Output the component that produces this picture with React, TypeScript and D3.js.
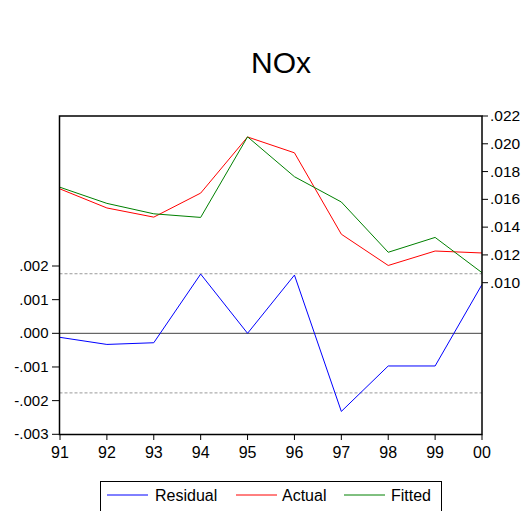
import React from "react";
import * as d3 from "d3";

const years = ["91", "92", "93", "94", "95", "96", "97", "98", "99", "00"];
const actual = [0.01675, 0.01538, 0.01472, 0.01645, 0.02049, 0.01935, 0.01349, 0.01124, 0.01228, 0.01214];
const fitted = [0.01687, 0.01571, 0.01496, 0.0147, 0.0205, 0.01763, 0.01581, 0.01219, 0.01326, 0.01072];
const residual = [-0.00012, -0.00033, -0.00028, 0.00176, 0.0, 0.00173, -0.00232, -0.00097, -0.00097, 0.00145];
const residStd = 0.00177;
const leftTicks = [-0.003, -0.002, -0.001, 0.0, 0.001, 0.002];
const rightTicks = [0.01, 0.012, 0.014, 0.016, 0.018, 0.02, 0.022];
const legendItems = [
  { name: "Residual", color: "#0000FF" },
  { name: "Actual", color: "#FF0000" },
  { name: "Fitted", color: "#008000" },
];

const fmt = (v: number) => {
  const s = Math.abs(v).toFixed(3).replace(/^0/, "");
  return (v < -1e-9 ? "-" : "") + s;
};

export default function App() {
  const L = 59.5, R = 482, T = 116, B = 434.5;
  const x = d3.scalePoint<string>().domain(years).range([60, 482]);
  const yL = d3.scaleLinear().domain([-0.003, 0.002]).range([434.3, 266]);
  const yR = d3.scaleLinear().domain([0.01, 0.022]).range([282.7, 116]);
  const lineL = d3.line<number>().x((_, i) => x(years[i])!).y((d) => yL(d));
  const lineR = d3.line<number>().x((_, i) => x(years[i])!).y((d) => yR(d));
  const font = "Arial, 'Liberation Sans', sans-serif";
  const legX = [107, 236, 344];
  const legTextX = [155, 282, 391];
  return (
    <svg width={529} height={511} style={{ position: "absolute", left: 0, top: 0 }} fontFamily={font}>
      <rect width={529} height={511} fill="#fff" />
      <text x={281} y={72.5} fontSize={30} textAnchor="middle">NOx</text>
      <line x1={L} x2={R} y1={yL(0)} y2={yL(0)} stroke="#444" strokeWidth={1} />
      <line x1={L} x2={R} y1={yL(residStd)} y2={yL(residStd)} stroke="#999" strokeWidth={1} strokeDasharray="3,2" />
      <line x1={L} x2={R} y1={yL(-residStd)} y2={yL(-residStd)} stroke="#999" strokeWidth={1} strokeDasharray="3,2" />
      <path d={lineL(residual)!} fill="none" stroke="#0000FF" strokeWidth={1} />
      <path d={lineR(actual)!} fill="none" stroke="#FF0000" strokeWidth={1} />
      <path d={lineR(fitted)!} fill="none" stroke="#008000" strokeWidth={1} />
      <rect x={L} y={T} width={R - L} height={B - T} fill="none" stroke="#000" strokeWidth={1.5} />
      {leftTicks.map((t) => (
        <g key={"l" + t}>
          <line x1={52} x2={L} y1={yL(t)} y2={yL(t)} stroke="#000" strokeWidth={1} />
          <text x={48.5} y={yL(t) + 5} fontSize={15} textAnchor="end">{fmt(t)}</text>
        </g>
      ))}
      {rightTicks.map((t) => (
        <g key={"r" + t}>
          <line x1={R} x2={488} y1={yR(t)} y2={yR(t)} stroke="#000" strokeWidth={1} />
          <text x={490} y={yR(t) + 5} fontSize={15.5} textAnchor="start">{fmt(t)}</text>
        </g>
      ))}
      {years.map((yv) => (
        <g key={"x" + yv}>
          <line x1={x(yv)} x2={x(yv)} y1={B} y2={440} stroke="#000" strokeWidth={1} />
          <text x={x(yv)} y={457.5} fontSize={16} textAnchor="middle">{yv}</text>
        </g>
      ))}
      <rect x={100.5} y={481.5} width={341} height={40} fill="#fff" stroke="#000" strokeWidth={1} />
      {legendItems.map((it, i) => (
        <g key={it.name}>
          <line x1={legX[i]} x2={legX[i] + 41} y1={495} y2={495} stroke={it.color} strokeWidth={1} />
          <text x={legTextX[i]} y={500.5} fontSize={16}>{it.name}</text>
        </g>
      ))}
    </svg>
  );
}
